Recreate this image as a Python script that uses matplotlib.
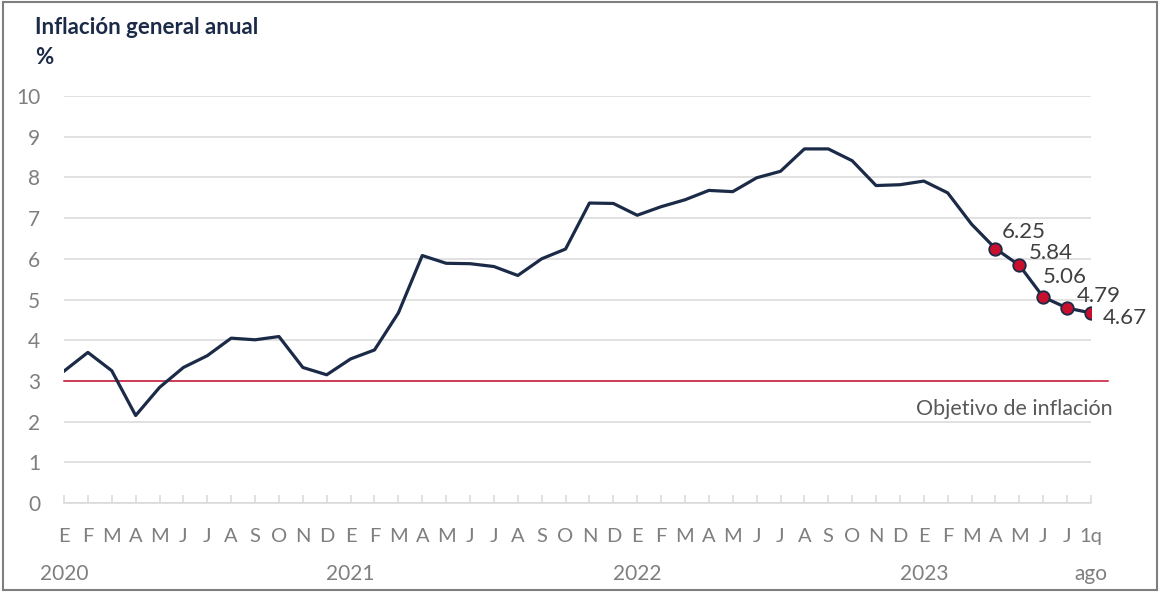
import matplotlib
matplotlib.use("Agg")
import matplotlib.pyplot as plt
from matplotlib.patches import Rectangle

plt.rcParams['font.family'] = ['Lato', 'DejaVu Sans']

# datos: inflacion general anual (%)
months = ['E', 'F', 'M', 'A', 'M', 'J', 'J', 'A', 'S', 'O', 'N', 'D'] * 3 + \
         ['E', 'F', 'M', 'A', 'M', 'J', 'J', '1q']
inflation = [3.24, 3.70, 3.25, 2.15, 2.84, 3.33, 3.62, 4.05, 4.01, 4.09, 3.33, 3.15,
             3.54, 3.76, 4.67, 6.08, 5.89, 5.88, 5.81, 5.59, 6.00, 6.24, 7.37, 7.36,
             7.07, 7.28, 7.45, 7.68, 7.65, 7.99, 8.15, 8.70, 8.70, 8.41, 7.80, 7.82,
             7.91, 7.62, 6.85, 6.25, 5.84, 5.06, 4.79, 4.67]
years = ['2020', '2021', '2022', '2023', 'ago']
year_pos = [0, 12, 24, 36, 43]
target = 3
n_marked = 5

navy = '#1b2a47'
red = '#c8102e'
gray = '#7f7f7f'

fig = plt.figure(figsize=(11.6, 5.92), dpi=100)
W, H = 1160, 592
ax = fig.add_axes([64 / W, (H - 503) / H, (1091 - 64) / W, (503 - 96) / H])

x = list(range(len(inflation)))
ax.plot(x, inflation, color=navy, lw=2.3, zorder=4)
mk = x[-n_marked:]
ax.plot(mk, inflation[-n_marked:], ls='none', marker='o', ms=9,
        mfc=red, mec=navy, mew=1.3, zorder=5)

# etiquetas de los ultimos datos
offsets = [(4.3, 12.2), (6.8, 8.9), (-0.4, 14.4), (6.8, 8.6), (8.6, -3.6)]
for xi, (dx, dy) in zip(mk, offsets):
    v = inflation[xi]
    ax.annotate(f'{v:.2f}', (xi, v), xytext=(dx, dy), textcoords='offset points',
                fontsize=16, color='#404040', ha='left', va='center', zorder=6)

# objetivo
ax.plot([0, 43.7], [target, target], color=red, lw=1.1, zorder=3, clip_on=False)
ax.text(43.9, 2.3, 'Objetivo de inflación', ha='right', va='center',
        fontsize=15.5, color='#595959')

ax.set_xlim(0, 43)
ax.set_ylim(0, 10)
ax.set_yticks(range(0, 11))
ax.grid(axis='y', color='#d9d9d9', lw=1.1)
ax.set_axisbelow(True)
for s in ['top', 'right', 'left']:
    ax.spines[s].set_visible(False)
ax.spines['bottom'].set_color('#d9d9d9')
ax.spines['bottom'].set_linewidth(1.1)
ax.tick_params(axis='y', length=0, pad=17, labelsize=15, labelcolor=gray)
ax.set_xticks(x)
ax.set_xticklabels(months)
ax.tick_params(axis='x', direction='in', length=6, color='#d9d9d9', width=1.1,
               pad=18, labelsize=14.5, labelcolor=gray)

for pos, yr in zip(year_pos, years):
    ax.text(pos, -0.175, yr, transform=ax.get_xaxis_transform(), ha='center',
            va='center', fontsize=15, color=gray)

fig.text(35 / W, 1 - 27 / H, 'Inflación general anual', fontsize=16,
         fontweight='bold', color=navy, va='center', ha='left')
fig.text(35 / W, 1 - 57 / H, '%', fontsize=16, fontweight='bold',
         color=navy, va='center', ha='left')

fig.patches.append(Rectangle((3 / W, 2 / H), 1154 / W, 588 / H, transform=fig.transFigure,
                             fill=False, edgecolor=gray, lw=1.5))

fig.savefig('out.png', dpi=100)
